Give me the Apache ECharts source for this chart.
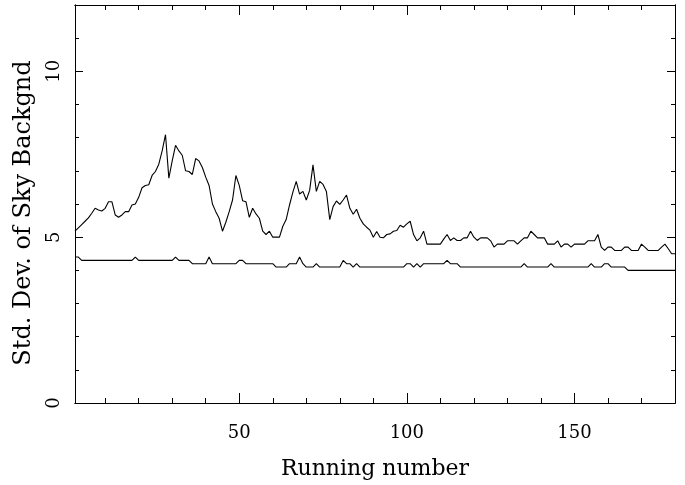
<!DOCTYPE html>
<html>
<head>
<meta charset="utf-8">
<script src="https://cdn.jsdelivr.net/npm/echarts@6/dist/echarts.min.js"></script>
<style>
html,body{margin:0;padding:0;background:#fff;}
#chart{width:685px;height:485px;}
</style>
</head>
<body>
<div id="chart"></div>
<script>
// Running number 1..180 (x categories)
const runningNumber = Array.from({length: 180}, (_, i) => i + 1);

// Upper curve (std. dev. of sky background)
const upperSeries = [
  5.18,5.28,5.38,5.48,5.58,5.72,5.87,5.82,5.79,5.87,
  6.07,6.07,5.67,5.60,5.67,5.77,5.77,5.97,6.00,6.20,
  6.49,6.56,6.58,6.86,6.98,7.20,7.60,8.09,6.78,7.30,
  7.77,7.60,7.47,7.00,6.98,6.89,7.37,7.30,7.10,6.81,
  6.56,6.00,5.77,5.57,5.18,5.45,5.77,6.12,6.86,6.56,
  6.10,6.07,5.60,5.87,5.70,5.57,5.18,5.08,5.18,5.00,
  5.00,5.00,5.33,5.53,5.97,6.36,6.68,6.30,6.38,6.12,
  6.41,7.18,6.38,6.68,6.59,6.38,5.53,5.92,6.09,5.99,
  6.12,6.27,5.87,5.69,5.84,5.57,5.40,5.30,5.21,5.00,
  5.17,5.00,4.98,5.08,5.10,5.18,5.20,5.36,5.30,5.40,
  5.48,5.08,4.89,4.98,5.18,4.79,4.79,4.79,4.79,4.79,
  4.94,5.08,4.90,4.98,4.90,4.90,4.98,4.98,5.18,5.00,
  4.90,4.98,4.98,4.98,4.89,4.70,4.79,4.79,4.79,4.89,
  4.89,4.89,4.79,4.89,4.98,4.98,5.18,5.08,4.98,4.98,
  4.98,4.79,4.79,4.79,4.89,4.70,4.79,4.79,4.70,4.79,
  4.79,4.79,4.79,4.89,4.89,4.89,5.08,4.70,4.60,4.70,
  4.70,4.60,4.60,4.60,4.70,4.70,4.60,4.60,4.60,4.79,
  4.70,4.60,4.60,4.60,4.60,4.70,4.79,4.65,4.50,4.50
];

// Lower curve
const lowerSeries = [
  4.4,4.4,4.3,4.3,4.3,4.3,4.3,4.3,4.3,4.3,
  4.3,4.3,4.3,4.3,4.3,4.3,4.3,4.3,4.4,4.3,
  4.3,4.3,4.3,4.3,4.3,4.3,4.3,4.3,4.3,4.3,
  4.4,4.3,4.3,4.3,4.3,4.2,4.2,4.2,4.2,4.2,
  4.4,4.2,4.2,4.2,4.2,4.2,4.2,4.2,4.2,4.3,
  4.3,4.2,4.2,4.2,4.2,4.2,4.2,4.2,4.2,4.2,
  4.1,4.1,4.1,4.1,4.2,4.2,4.2,4.4,4.2,4.1,
  4.1,4.1,4.2,4.1,4.1,4.1,4.1,4.1,4.1,4.1,
  4.3,4.2,4.2,4.1,4.2,4.1,4.1,4.1,4.1,4.1,
  4.1,4.1,4.1,4.1,4.1,4.1,4.1,4.1,4.1,4.2,
  4.2,4.1,4.2,4.1,4.2,4.2,4.2,4.2,4.2,4.2,
  4.2,4.3,4.2,4.2,4.2,4.1,4.1,4.1,4.1,4.1,
  4.1,4.1,4.1,4.1,4.1,4.1,4.1,4.1,4.1,4.1,
  4.1,4.1,4.1,4.1,4.2,4.1,4.1,4.1,4.1,4.1,
  4.1,4.1,4.2,4.1,4.1,4.1,4.1,4.1,4.1,4.1,
  4.1,4.1,4.1,4.1,4.2,4.1,4.1,4.1,4.2,4.2,
  4.1,4.1,4.1,4.1,4.1,4.0,4.0,4.0,4.0,4.0,
  4.0,4.0,4.0,4.0,4.0,4.0,4.0,4.0,4.0,4.0
];

// Axis ticks and labels
const xMajorTicks = [50, 100, 150];
const xMinorTicks = [10, 20, 30, 40, 60, 70, 80, 90, 110, 120, 130, 140, 160, 170];
const yMajorTicks = [0, 5, 10];
const yMinorTicks = [1, 2, 3, 4, 6, 7, 8, 9, 11];
const xRange = [1, 180];
const yRange = [0, 12];
const xTitle = 'Running number';
const yTitle = 'Std. Dev. of Sky Backgnd';

const FONT = '"DejaVu Serif", "Liberation Serif", serif';
const INK = '#000';

function xAxisDef(position, ticks, len, opts) {
  return Object.assign({
    type: 'value', position: position, min: xRange[0], max: xRange[1],
    axisLine: {show: true, onZero: false, lineStyle: {color: INK, width: 1}},
    axisTick: {show: true, inside: true, length: len, customValues: ticks, lineStyle: {color: INK, width: 1}},
    axisLabel: {show: false},
    splitLine: {show: false}
  }, opts || {});
}
function yAxisDef(position, ticks, len, opts) {
  return Object.assign({
    type: 'value', position: position, min: yRange[0], max: yRange[1],
    axisLine: {show: true, onZero: false, lineStyle: {color: INK, width: 1}},
    axisTick: {show: true, inside: true, length: len, customValues: ticks, lineStyle: {color: INK, width: 1}},
    axisLabel: {show: false},
    splitLine: {show: false}
  }, opts || {});
}

const chart = echarts.init(document.getElementById('chart'), null, {renderer: 'canvas'});
chart.setOption({
  animation: false,
  backgroundColor: '#fff',
  grid: {left: 75, right: 10, top: 5, bottom: 75, containLabel: false},
  xAxis: [
    xAxisDef('bottom', xMajorTicks, 10, {
      axisLabel: {show: true, customValues: xMajorTicks, margin: 21, color: INK, fontFamily: FONT, fontSize: 18},
      name: xTitle, nameLocation: 'middle', nameGap: 55,
      nameTextStyle: {color: INK, fontFamily: FONT, fontSize: 22}
    }),
    xAxisDef('bottom', xMinorTicks, 5),
    xAxisDef('top', xMajorTicks, 10),
    xAxisDef('top', xMinorTicks, 5)
  ],
  yAxis: [
    yAxisDef('left', yMajorTicks, 8, {
      axisLabel: {show: true, customValues: yMajorTicks, rotate: 90, margin: 12, color: INK, fontFamily: FONT, fontSize: 18},
      name: yTitle, nameLocation: 'middle', nameGap: 39, nameRotate: 90,
      nameTextStyle: {color: INK, fontFamily: FONT, fontSize: 24, padding: [0, 18, 0, 0]}
    }),
    yAxisDef('left', yMinorTicks, 4),
    yAxisDef('right', yMajorTicks, 8),
    yAxisDef('right', yMinorTicks, 4)
  ],
  series: [
    {
      type: 'line', name: 'upper', xAxisIndex: 0, yAxisIndex: 0,
      data: runningNumber.map((x, i) => [x, upperSeries[i]]),
      showSymbol: false, symbol: 'none',
      lineStyle: {color: INK, width: 1.1}
    },
    {
      type: 'line', name: 'lower', xAxisIndex: 0, yAxisIndex: 0,
      data: runningNumber.map((x, i) => [x, lowerSeries[i]]),
      showSymbol: false, symbol: 'none',
      lineStyle: {color: INK, width: 1.1}
    }
  ]
});
</script>
</body>
</html>
